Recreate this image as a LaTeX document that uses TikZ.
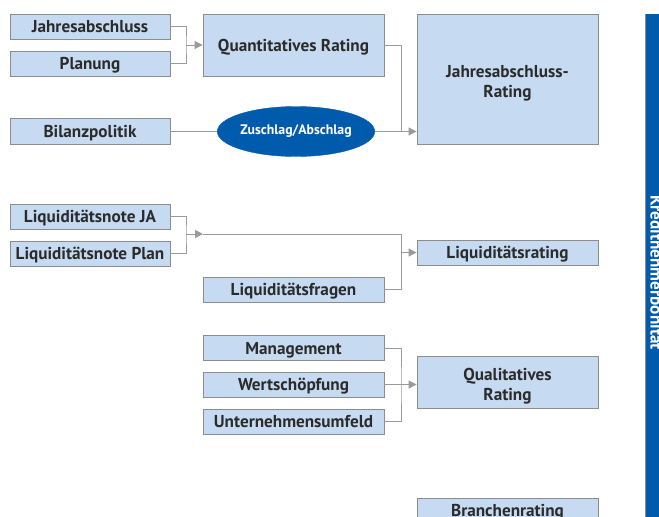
\documentclass[tikz,border=0pt]{standalone}
\usepackage{fontspec}
\setmainfont{PT Sans}
\usepackage{tikz}
\usetikzlibrary{arrows.meta,calc,shapes.geometric}

\definecolor{boxfill}{HTML}{C6DBF1}
\definecolor{boxline}{HTML}{8C8C8C}
\definecolor{wire}{HTML}{9A9A9A}
\definecolor{barblue}{HTML}{005BAC}
\definecolor{ink}{HTML}{2B2B2B}

\tikzset{
  box/.style={draw=boxline, line width=0.9, fill=boxfill, inner sep=0pt,
    minimum height=25, text=ink, align=center,
    font=\fontsize{17.2}{20}\selectfont\bfseries},
  smallbox/.style={box, minimum width=160, text height=13, text depth=1},
  widebox/.style={box, minimum width=181, text height=13, text depth=1},
  tallbox/.style={box, minimum width=181, text height=37, text depth=1},
  wire/.style={draw=wire, line width=1},
  arr/.style={wire, -{Triangle[length=8,width=8]}},
}

\begin{document}
\begin{tikzpicture}[x=1pt,y=-1pt]
				\useasboundingbox (0,0) rectangle (659,517);
				\clip (0,0) rectangle (659,517);
				\fill[white] (0,0) rectangle (659,517);
				% Jahresabschluss
				\node[smallbox] (jab) at (90,26.5) {Jahresabschluss};
				\node[smallbox] (plan) at (90,63.5) {Planung};
				\node[widebox, minimum height=62] (quant) at (293.5,45) {Quantitatives Rating};
				\node[tallbox, minimum height=130] (jarating) at (507.5,79) {Jahresabschluss-\\Rating};
				\node[smallbox, minimum height=26] (bilanz) at (90,131.5) {Bilanzpolitik};
				\node[ellipse, fill=barblue, draw=barblue, minimum width=122, minimum height=50,
				inner sep=0pt, text=white, font=\fontsize{13.8}{15}\selectfont\bfseries]
				(zuschlag) at (296,131.5) {Zuschlag/Abschlag};
				\coordinate (j1) at (186,45);
				\coordinate (j2) at (401,131.5);
				\draw[wire] (jab.east) -| (j1) |- (plan.east);
				\draw[arr] (j1) -- (quant.west);
				\draw[wire] (quant.east) -| (j2);
				\draw[wire] (bilanz.east) -- (zuschlag.west);
				\draw[wire] (zuschlag.east) -- (j2);
				\draw[arr] (j2) -- (j2 -| jarating.west);
				% Liquiditaet
				\node[smallbox] (ljA) at (90,216.5) {Liquiditätsnote JA};
				\node[smallbox] (lplan) at (90,253.5) {Liquiditätsnote Plan};
				\node[widebox] (lfragen) at (293.5,289.5) {Liquiditätsfragen};
				\node[widebox] (lrating) at (507.5,252.5) {Liquiditätsrating};
				\coordinate (j3) at (186,234);
				\coordinate (j4) at (203,234);
				\coordinate (j5) at (401,234);
				\draw[wire] (ljA.east) -| (j3) |- (lplan.east);
				\draw[arr] (j3) -- (j4);
				\draw[wire] (j4) -- (j5) |- (lfragen.east);
				\draw[arr] (j5 |- lrating.west) -- (lrating.west);
				% Qualitatives
				\node[widebox] (mgmt) at (293.5,348) {Management};
				\node[widebox] (wert) at (293.5,384.5) {Wertschöpfung};
				\node[widebox] (umfeld) at (293.5,421.5) {Unternehmensumfeld};
				\node[tallbox, minimum height=52] (qual) at (507.5,382) {Qualitatives\\Rating};
				\coordinate (j6) at (401,384.5);
				\draw[wire] (mgmt.east) -| (j6) |- (umfeld.east);
				\draw[wire] (wert.east) -- (j6);
				\draw[arr] (j6) -- (j6 -| qual.west);
				% Branche
				\node[widebox] (branche) at (507.5,510.5) {Branchenrating};
				% Balken
				\fill[barblue] (645,14) rectangle (680,530);
				\draw[boxline, line width=0.8] (645,14) -- (645,530);
				\node[rotate=-90, anchor=base, text=white, inner sep=0pt,
				font=\fontsize{17.2}{20}\selectfont\bfseries] (bartext) at (650.5,272.5) {Kreditnehmerbonität};
\end{tikzpicture}
\end{document}
